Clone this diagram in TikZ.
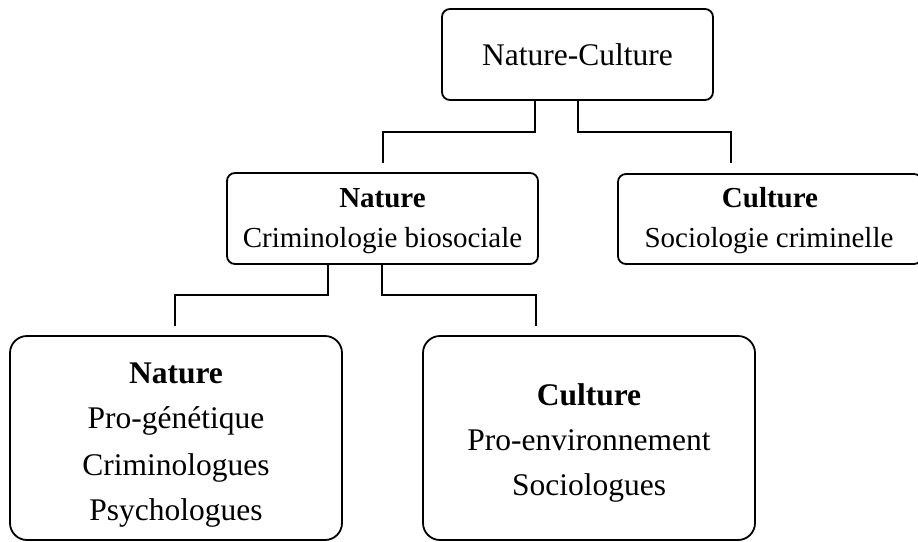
\documentclass[tikz,border=0pt]{standalone}
\usepackage{fontspec}
\setmainfont{Liberation Serif}
\begin{document}
\begin{tikzpicture}[x=1pt,y=-1pt,
  box/.style={draw, line width=1.8pt, rounded corners=8pt, inner sep=0pt},
  bigbox/.style={box, rounded corners=17pt},
  wire/.style={line width=1.8pt},
  midtxt/.style={anchor=base, inner sep=0pt, font=\fontsize{29}{35}\selectfont},
  bigtxt/.style={anchor=base, inner sep=0pt, font=\fontsize{31.5}{38}\selectfont}]
\useasboundingbox (0,0) rectangle (918,541);
\clip (0,0) rectangle (918,541);

% boxes
\node[box, minimum width=271pt, minimum height=91pt] (top) at (577.5,54.5) {};
\node[box, minimum width=311pt, minimum height=91pt] (midL) at (382.5,218.5) {};
\node[box, minimum width=304pt, minimum height=90pt] (midR) at (770,219) {};
\node[bigbox, minimum width=332pt, minimum height=204pt] (botL) at (176,438) {};
\node[bigbox, minimum width=332pt, minimum height=204pt] (botR) at (589,438) {};

% texts
\node[bigtxt] (tTop) at (577.5,65) {Nature-Culture};

\node[midtxt] (tL1) at (382.5,207) {\bfseries Nature};
\node[midtxt] (tL2) at (382.5,247) {Criminologie biosociale};

\node[midtxt] (tR1) at (770,207) {\bfseries Culture};
\node[midtxt] (tR2) at (769,247) {Sociologie criminelle};

\node[bigtxt] (bL1) at (176,383) {\bfseries Nature};
\node[bigtxt] (bL2) at (176,428) {Pro-génétique};
\node[bigtxt] (bL3) at (176,475) {Criminologues};
\node[bigtxt] (bL4) at (176,520) {Psychologues};

\node[bigtxt] (bR1) at (589,405) {\bfseries Culture};
\node[bigtxt] (bR2) at (589,450) {Pro-environnement};
\node[bigtxt] (bR3) at (589,495) {Sociologues};

% connector bends and open ends
\coordinate (t1) at (535,132);
\coordinate (t2) at (578,132);
\coordinate (eL) at (383,163);
\coordinate (eR) at (731,163);
\coordinate (m1) at (328,295);
\coordinate (m2) at (382,295);
\coordinate (fL) at (175,326);
\coordinate (fR) at (536,326);

% connectors
\draw[wire] (top.south -| t1) -- (t1) -| (eL);
\draw[wire] (top.south -| t2) -- (t2) -| (eR);
\draw[wire] (midL.south -| m1) -- (m1) -| (fL);
\draw[wire] (midL.south -| m2) -- (m2) -| (fR);
\end{tikzpicture}
\end{document}
